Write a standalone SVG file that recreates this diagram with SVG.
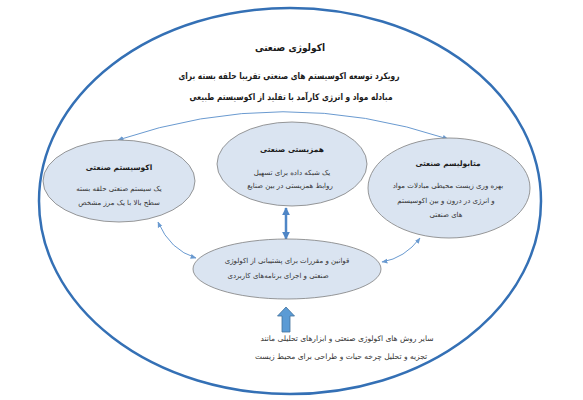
<svg xmlns="http://www.w3.org/2000/svg" width="583" height="400" viewBox="0 0 583 400">
<defs>
<style>
.t{font-family:"DejaVu Sans",sans-serif;fill:#1a1a1a;text-anchor:middle}
.h{font-size:10px;font-weight:bold}
.s{font-size:9px;font-weight:bold}
.nt{font-size:7.5px;font-weight:bold}
.n{font-size:7px;fill:#333}
.m{font-size:7.5px;fill:#333}
.node{fill:#dae4f1;stroke:#7f7f7f;stroke-width:0.8}
.c{fill:none;stroke:#6a9ad0;stroke-width:1}
</style>
<marker id="a" viewBox="0 0 10 10" refX="9" refY="5" markerWidth="6" markerHeight="6" orient="auto-start-reverse" markerUnits="userSpaceOnUse">
<path d="M0,1 L10,5 L0,9 z" fill="#6a9ad0"/>
</marker>
<marker id="b" viewBox="0 0 10 10" refX="9" refY="5" markerWidth="8" markerHeight="8" orient="auto-start-reverse" markerUnits="userSpaceOnUse">
<path d="M0,0 L10,5 L0,10 z" fill="#4f86c6"/>
</marker>
</defs>
<rect width="583" height="400" fill="#ffffff"/>
<g id="outer">
<ellipse cx="290" cy="201" rx="251" ry="193" fill="none" stroke="#3470b5" stroke-width="2.5"/>
<text class="t h" x="290" y="51" textLength="70" lengthAdjust="spacingAndGlyphs">اکولوژی صنعتی</text>
<text class="t s" x="289" y="79" textLength="221" lengthAdjust="spacingAndGlyphs">رویکرد توسعه اکوسیستم های صنعتی تقریبا حلقه بسته برای</text>
<text class="t s" x="291" y="100" textLength="203" lengthAdjust="spacingAndGlyphs">مبادله مواد و انرژی کارآمد با تقلید از اکوسیستم طبیعی</text>
</g>
<g id="connectors">
<path class="c" d="M448,139 Q283,84 118,140" marker-start="url(#a)" marker-end="url(#a)"/>
<path class="c" d="M158,222 Q170,250 196,258" marker-start="url(#a)" marker-end="url(#a)"/>
<path class="c" d="M382,262 Q405,258 420,238" marker-start="url(#a)" marker-end="url(#a)"/>
<path d="M286,208 L286,239" fill="none" stroke="#4f86c6" stroke-width="2.5" marker-start="url(#b)" marker-end="url(#b)"/>
<polygon points="286,307 294.5,316 290,316 290,332 282,332 282,316 277.5,316" fill="#5b9bd5" stroke="#41719c" stroke-width="0.8"/>
</g>
<g id="ecosystem">
<ellipse class="node" cx="119" cy="181" rx="76" ry="41"/>
<text class="t nt" x="119" y="170">اکوسیستم صنعتی</text>
<text class="t n" x="119" y="191">یک سیستم صنعتی حلقه بسته</text>
<text class="t n" x="119" y="205">سطح بالا با یک مرز مشخص</text>
</g>
<g id="symbiosis">
<ellipse class="node" cx="292" cy="164" rx="75" ry="42"/>
<text class="t nt" x="292" y="152">همزیستی صنعتی</text>
<text class="t n" x="292" y="175">یک شبکه داده برای تسهیل</text>
<text class="t n" x="290" y="188">روابط همزیستی در بین صنایع</text>
</g>
<g id="metabolism">
<ellipse class="node" cx="449" cy="188" rx="81" ry="50"/>
<text class="t nt" x="448" y="166">متابولیسم صنعتی</text>
<text class="t n" x="448" y="188">بهره وری زیست محیطی مبادلات مواد</text>
<text class="t n" x="446" y="203">و انرژی در درون و بین اکوسیستم</text>
<text class="t n" x="446" y="217">های صنعتی</text>
</g>
<g id="regulations">
<ellipse class="node" cx="287" cy="269" rx="94" ry="30"/>
<text class="t n" x="287" y="263">قوانین و مقررات برای پشتیبانی از اکولوژی</text>
<text class="t n" x="278" y="278">صنعتی و اجرای برنامه‌های کاربردی</text>
</g>
<g id="methods">
<text class="t m" x="347" y="341">سایر روش های اکولوژی صنعتی و ابزارهای تحلیلی مانند</text>
<text class="t m" x="341" y="359">تجزیه و تحلیل چرخه حیات و طراحی برای محیط زیست</text>
</g>
</svg>
